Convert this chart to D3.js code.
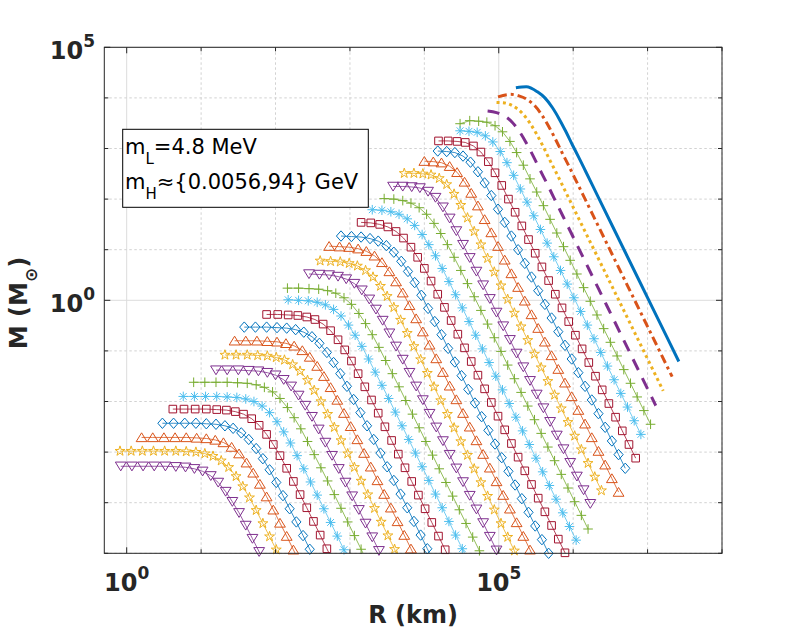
<!DOCTYPE html>
<html><head><meta charset="utf-8">
<script src="https://cdn.jsdelivr.net/npm/d3@7"></script>
<style>body{margin:0;background:#fff} svg{display:block}</style>
</head><body>
<svg id="chart" width="799" height="631"></svg>
<script>
// Each curve: [log10 R (km), log10 M (Msun)] pairs
const c01=[[5.23,4.20],[5.37,4.22],[5.52,4.12],[5.62,4.00],[5.72,3.81],[5.81,3.59],[5.90,3.34],[5.99,3.07],[6.08,2.81],[6.17,2.54],[6.26,2.27],[6.35,2.00],[6.71,0.92],[7.07,-0.16],[7.42,-1.21]];
const c02=[[4.99,4.02],[5.16,4.07],[5.27,4.04],[5.38,3.97],[5.48,3.85],[5.58,3.66],[5.67,3.44],[5.76,3.19],[5.85,2.92],[5.94,2.66],[6.03,2.39],[6.12,2.12],[6.21,1.85],[6.57,0.77],[6.93,-0.31],[7.33,-1.51]];
const c03=[[4.97,3.91],[5.08,3.90],[5.19,3.84],[5.32,3.69],[5.42,3.50],[5.51,3.28],[5.60,3.03],[5.69,2.76],[5.78,2.50],[5.87,2.23],[5.96,1.96],[6.05,1.69],[6.41,0.61],[6.77,-0.47],[7.21,-1.79]];
const c04=[[4.85,3.74],[4.97,3.71],[5.08,3.64],[5.18,3.52],[5.28,3.33],[5.37,3.11],[5.46,2.86],[5.55,2.59],[5.64,2.33],[5.73,2.06],[5.82,1.79],[5.91,1.52],[6.27,0.44],[6.63,-0.64],[7.11,-2.08]];
const c05=[[4.48,3.49],[4.61,3.55],[4.73,3.54],[4.84,3.52],[4.95,3.45],[5.05,3.33],[5.15,3.14],[5.24,2.92],[5.33,2.67],[5.42,2.40],[5.51,2.14],[5.60,1.87],[5.69,1.60],[5.78,1.33],[5.87,1.06],[5.96,0.79],[6.05,0.52],[6.14,0.25],[6.23,-0.02],[6.32,-0.29],[6.41,-0.56],[6.50,-0.83],[6.59,-1.10],[6.68,-1.37],[6.77,-1.64],[6.86,-1.91],[6.95,-2.18],[7.04,-2.45]];
const c06=[[4.48,3.35],[4.60,3.34],[4.71,3.32],[4.82,3.25],[4.92,3.13],[5.02,2.94],[5.11,2.72],[5.20,2.47],[5.29,2.20],[5.38,1.94],[5.47,1.67],[5.56,1.40],[5.65,1.13],[5.74,0.86],[5.83,0.59],[5.92,0.32],[6.01,0.05],[6.10,-0.22],[6.19,-0.49],[6.28,-0.76],[6.37,-1.03],[6.46,-1.30],[6.55,-1.57],[6.64,-1.84],[6.73,-2.11],[6.82,-2.38],[6.91,-2.65]];
const c07=[[4.19,3.15],[4.32,3.15],[4.44,3.14],[4.55,3.12],[4.66,3.05],[4.76,2.93],[4.86,2.74],[4.95,2.52],[5.04,2.27],[5.13,2.00],[5.22,1.74],[5.31,1.47],[5.40,1.20],[5.49,0.93],[5.58,0.66],[5.67,0.39],[5.76,0.12],[5.85,-0.15],[5.94,-0.42],[6.03,-0.69],[6.12,-0.96],[6.21,-1.23],[6.30,-1.50],[6.39,-1.77],[6.48,-2.04],[6.57,-2.31],[6.66,-2.58],[6.75,-2.85],[6.84,-3.12]];
const c08=[[4.18,2.95],[4.30,2.94],[4.41,2.92],[4.52,2.85],[4.62,2.73],[4.72,2.54],[4.81,2.32],[4.90,2.07],[4.99,1.80],[5.08,1.54],[5.17,1.27],[5.26,1.00],[5.35,0.73],[5.44,0.46],[5.53,0.19],[5.62,-0.08],[5.71,-0.35],[5.80,-0.62],[5.89,-0.89],[5.98,-1.16],[6.07,-1.43],[6.16,-1.70],[6.25,-1.97],[6.34,-2.24],[6.43,-2.51],[6.52,-2.78],[6.61,-3.05],[6.70,-3.32]];
const c09=[[4.00,2.75],[4.12,2.74],[4.23,2.72],[4.34,2.65],[4.44,2.53],[4.54,2.34],[4.63,2.12],[4.72,1.87],[4.81,1.60],[4.90,1.34],[4.99,1.07],[5.08,0.80],[5.17,0.53],[5.26,0.26],[5.35,-0.01],[5.44,-0.28],[5.53,-0.55],[5.62,-0.82],[5.71,-1.09],[5.80,-1.36],[5.89,-1.63],[5.98,-1.90],[6.07,-2.17],[6.16,-2.44],[6.25,-2.71],[6.34,-2.98],[6.43,-3.25],[6.52,-3.52],[6.61,-3.79]];
const c10=[[3.73,2.51],[3.86,2.51],[3.98,2.50],[4.09,2.48],[4.20,2.41],[4.30,2.29],[4.40,2.10],[4.49,1.88],[4.58,1.63],[4.67,1.36],[4.76,1.10],[4.85,0.83],[4.94,0.56],[5.03,0.29],[5.12,0.02],[5.21,-0.25],[5.30,-0.52],[5.39,-0.79],[5.48,-1.06],[5.57,-1.33],[5.66,-1.60],[5.75,-1.87],[5.84,-2.14],[5.93,-2.41],[6.02,-2.68],[6.11,-2.95],[6.20,-3.22],[6.29,-3.49],[6.38,-3.76]];
const c11=[[3.58,2.25],[3.71,2.25],[3.83,2.24],[3.94,2.22],[4.05,2.15],[4.15,2.03],[4.25,1.84],[4.34,1.62],[4.43,1.37],[4.52,1.10],[4.61,0.84],[4.70,0.57],[4.79,0.30],[4.88,0.03],[4.97,-0.24],[5.06,-0.51],[5.15,-0.78],[5.24,-1.05],[5.33,-1.32],[5.42,-1.59],[5.51,-1.86],[5.60,-2.13],[5.69,-2.40],[5.78,-2.67],[5.87,-2.94],[5.96,-3.21],[6.05,-3.48],[6.14,-3.75],[6.23,-4.02]];
const c12=[[3.46,2.01],[3.59,2.00],[3.71,1.97],[3.82,1.92],[3.93,1.83],[4.03,1.70],[4.13,1.52],[4.22,1.32],[4.31,1.10],[4.40,0.85],[4.49,0.59],[4.58,0.33],[4.67,0.07],[4.76,-0.20],[4.85,-0.47],[4.94,-0.74],[5.03,-1.01],[5.12,-1.28],[5.21,-1.55],[5.30,-1.82],[5.39,-2.09],[5.48,-2.36],[5.57,-2.63],[5.66,-2.90],[5.75,-3.17],[5.84,-3.44],[5.93,-3.71],[6.02,-3.98],[6.11,-4.25],[6.20,-4.52]];
const c13=[[3.30,1.79],[3.43,1.78],[3.55,1.75],[3.66,1.70],[3.77,1.61],[3.87,1.48],[3.97,1.30],[4.06,1.10],[4.15,0.88],[4.24,0.63],[4.33,0.37],[4.42,0.11],[4.51,-0.15],[4.60,-0.42],[4.69,-0.69],[4.78,-0.96],[4.87,-1.23],[4.96,-1.50],[5.05,-1.77],[5.14,-2.04],[5.23,-2.31],[5.32,-2.58],[5.41,-2.85],[5.50,-3.12],[5.59,-3.39],[5.68,-3.66],[5.77,-3.93],[5.86,-4.20],[5.95,-4.47],[6.04,-4.74]];
const c14=[[3.15,1.54],[3.28,1.53],[3.40,1.50],[3.51,1.45],[3.62,1.36],[3.72,1.23],[3.82,1.05],[3.91,0.85],[4.00,0.63],[4.09,0.38],[4.18,0.12],[4.27,-0.14],[4.36,-0.40],[4.45,-0.67],[4.54,-0.94],[4.63,-1.21],[4.72,-1.48],[4.81,-1.75],[4.90,-2.02],[4.99,-2.29],[5.08,-2.56],[5.17,-2.83],[5.26,-3.10],[5.35,-3.37],[5.44,-3.64],[5.53,-3.91],[5.62,-4.18],[5.71,-4.45],[5.80,-4.72],[5.89,-4.99],[5.98,-5.26]];
const c15=[[2.88,1.27],[3.02,1.26],[3.15,1.25],[3.27,1.22],[3.38,1.17],[3.49,1.08],[3.59,0.95],[3.69,0.77],[3.78,0.57],[3.87,0.35],[3.96,0.10],[4.05,-0.16],[4.14,-0.42],[4.23,-0.68],[4.32,-0.95],[4.41,-1.22],[4.50,-1.49],[4.59,-1.76],[4.68,-2.03],[4.77,-2.30],[4.86,-2.57],[4.95,-2.84],[5.04,-3.11],[5.13,-3.38],[5.22,-3.65],[5.31,-3.92],[5.40,-4.19],[5.49,-4.46],[5.58,-4.73],[5.67,-5.00],[5.76,-5.27]];
const c16=[[2.72,1.07],[2.86,1.06],[2.99,1.05],[3.11,1.02],[3.22,0.97],[3.33,0.88],[3.43,0.75],[3.53,0.57],[3.62,0.37],[3.71,0.15],[3.80,-0.10],[3.89,-0.36],[3.98,-0.62],[4.07,-0.88],[4.16,-1.15],[4.25,-1.42],[4.34,-1.69],[4.43,-1.96],[4.52,-2.23],[4.61,-2.50],[4.70,-2.77],[4.79,-3.04],[4.88,-3.31],[4.97,-3.58],[5.06,-3.85],[5.15,-4.12],[5.24,-4.39],[5.33,-4.66],[5.42,-4.93],[5.51,-5.20]];
const c17=[[2.60,0.78],[2.74,0.77],[2.87,0.76],[2.99,0.73],[3.10,0.68],[3.21,0.59],[3.31,0.46],[3.41,0.28],[3.50,0.08],[3.59,-0.14],[3.68,-0.39],[3.77,-0.65],[3.86,-0.91],[3.95,-1.17],[4.04,-1.44],[4.13,-1.71],[4.22,-1.98],[4.31,-2.25],[4.40,-2.52],[4.49,-2.79],[4.58,-3.06],[4.67,-3.33],[4.76,-3.60],[4.85,-3.87],[4.94,-4.14],[5.03,-4.41],[5.12,-4.68],[5.21,-4.95],[5.30,-5.22]];
const c18=[[2.45,0.52],[2.59,0.51],[2.72,0.50],[2.84,0.47],[2.95,0.42],[3.06,0.33],[3.16,0.20],[3.26,0.02],[3.35,-0.18],[3.44,-0.40],[3.53,-0.65],[3.62,-0.91],[3.71,-1.17],[3.80,-1.43],[3.89,-1.70],[3.98,-1.97],[4.07,-2.24],[4.16,-2.51],[4.25,-2.78],[4.34,-3.05],[4.43,-3.32],[4.52,-3.59],[4.61,-3.86],[4.70,-4.13],[4.79,-4.40],[4.88,-4.67],[4.97,-4.94],[5.06,-5.21]];
const c19=[[2.16,0.24],[2.31,0.24],[2.45,0.23],[2.58,0.22],[2.70,0.19],[2.81,0.14],[2.92,0.05],[3.02,-0.08],[3.12,-0.26],[3.21,-0.46],[3.30,-0.68],[3.39,-0.93],[3.48,-1.19],[3.57,-1.45],[3.66,-1.71],[3.75,-1.98],[3.84,-2.25],[3.93,-2.52],[4.02,-2.79],[4.11,-3.06],[4.20,-3.33],[4.29,-3.60],[4.38,-3.87],[4.47,-4.14],[4.56,-4.41],[4.65,-4.68],[4.74,-4.95],[4.83,-5.22]];
const c20=[[2.17,0.01],[2.31,0.00],[2.44,-0.01],[2.56,-0.04],[2.67,-0.09],[2.78,-0.18],[2.88,-0.31],[2.98,-0.49],[3.07,-0.69],[3.16,-0.91],[3.25,-1.16],[3.34,-1.42],[3.43,-1.68],[3.52,-1.94],[3.61,-2.21],[3.70,-2.48],[3.79,-2.75],[3.88,-3.02],[3.97,-3.29],[4.06,-3.56],[4.15,-3.83],[4.24,-4.10],[4.33,-4.37],[4.42,-4.64],[4.51,-4.91],[4.60,-5.18]];
const c21=[[1.88,-0.28],[2.03,-0.28],[2.17,-0.29],[2.30,-0.30],[2.42,-0.33],[2.53,-0.38],[2.64,-0.47],[2.74,-0.60],[2.84,-0.78],[2.93,-0.98],[3.02,-1.20],[3.11,-1.45],[3.20,-1.71],[3.29,-1.97],[3.38,-2.23],[3.47,-2.50],[3.56,-2.77],[3.65,-3.04],[3.74,-3.31],[3.83,-3.58],[3.92,-3.85],[4.01,-4.12],[4.10,-4.39],[4.19,-4.66],[4.28,-4.93],[4.37,-5.20]];
const c22=[[1.58,-0.53],[1.73,-0.53],[1.88,-0.53],[2.02,-0.54],[2.15,-0.55],[2.27,-0.58],[2.38,-0.63],[2.49,-0.72],[2.59,-0.85],[2.69,-1.03],[2.78,-1.23],[2.87,-1.45],[2.96,-1.70],[3.05,-1.96],[3.14,-2.22],[3.23,-2.48],[3.32,-2.75],[3.41,-3.02],[3.50,-3.29],[3.59,-3.56],[3.68,-3.83],[3.77,-4.10],[3.86,-4.37],[3.95,-4.64],[4.04,-4.91],[4.13,-5.18]];
const c23=[[1.45,-0.80],[1.60,-0.80],[1.75,-0.80],[1.89,-0.81],[2.02,-0.82],[2.14,-0.85],[2.25,-0.90],[2.36,-0.99],[2.46,-1.12],[2.56,-1.30],[2.65,-1.50],[2.74,-1.72],[2.83,-1.97],[2.92,-2.23],[3.01,-2.49],[3.10,-2.75],[3.19,-3.02],[3.28,-3.29],[3.37,-3.56],[3.46,-3.83],[3.55,-4.10],[3.64,-4.37],[3.73,-4.64],[3.82,-4.91],[3.91,-5.18]];
const c24=[[1.32,-1.08],[1.47,-1.08],[1.62,-1.08],[1.76,-1.09],[1.89,-1.10],[2.01,-1.13],[2.12,-1.18],[2.23,-1.27],[2.33,-1.40],[2.43,-1.58],[2.52,-1.78],[2.61,-2.00],[2.70,-2.25],[2.79,-2.51],[2.88,-2.77],[2.97,-3.03],[3.06,-3.30],[3.15,-3.57],[3.24,-3.84],[3.33,-4.11],[3.42,-4.38],[3.51,-4.65],[3.60,-4.92],[3.69,-5.19]];
const c25=[[1.20,-1.38],[1.35,-1.38],[1.50,-1.38],[1.64,-1.39],[1.77,-1.40],[1.89,-1.43],[2.00,-1.48],[2.11,-1.57],[2.21,-1.70],[2.31,-1.88],[2.40,-2.08],[2.49,-2.30],[2.58,-2.55],[2.67,-2.81],[2.76,-3.07],[2.85,-3.33],[2.94,-3.60],[3.03,-3.87],[3.12,-4.14],[3.21,-4.41],[3.30,-4.68],[3.39,-4.95],[3.48,-5.22]];
const c26=[[0.90,-1.62],[1.05,-1.62],[1.20,-1.62],[1.35,-1.62],[1.49,-1.63],[1.62,-1.64],[1.74,-1.67],[1.85,-1.72],[1.96,-1.81],[2.06,-1.94],[2.16,-2.12],[2.25,-2.32],[2.34,-2.54],[2.43,-2.79],[2.52,-3.05],[2.61,-3.31],[2.70,-3.57],[2.79,-3.84],[2.88,-4.11],[2.97,-4.38],[3.06,-4.65],[3.15,-4.92],[3.24,-5.19]];
const c27=[[0.76,-1.90],[0.91,-1.90],[1.06,-1.90],[1.21,-1.90],[1.35,-1.91],[1.48,-1.92],[1.60,-1.95],[1.71,-2.00],[1.82,-2.09],[1.92,-2.22],[2.02,-2.40],[2.11,-2.60],[2.20,-2.82],[2.29,-3.07],[2.38,-3.33],[2.47,-3.59],[2.56,-3.85],[2.65,-4.12],[2.74,-4.39],[2.83,-4.66],[2.92,-4.93],[3.01,-5.20]];
const c28=[[0.62,-2.15],[0.77,-2.15],[0.92,-2.15],[1.07,-2.15],[1.21,-2.16],[1.34,-2.17],[1.46,-2.20],[1.57,-2.25],[1.68,-2.34],[1.78,-2.47],[1.88,-2.65],[1.97,-2.85],[2.06,-3.07],[2.15,-3.32],[2.24,-3.58],[2.33,-3.84],[2.42,-4.10],[2.51,-4.37],[2.60,-4.64],[2.69,-4.91],[2.78,-5.18]];
const c29=[[0.48,-2.43],[0.63,-2.43],[0.78,-2.43],[0.93,-2.43],[1.07,-2.44],[1.20,-2.45],[1.32,-2.48],[1.43,-2.53],[1.54,-2.62],[1.64,-2.75],[1.74,-2.93],[1.83,-3.13],[1.92,-3.35],[2.01,-3.60],[2.10,-3.86],[2.19,-4.12],[2.28,-4.38],[2.37,-4.65],[2.46,-4.92],[2.55,-5.19]];
const c30=[[0.20,-2.71],[0.35,-2.71],[0.50,-2.71],[0.65,-2.71],[0.80,-2.71],[0.94,-2.72],[1.07,-2.73],[1.19,-2.76],[1.30,-2.81],[1.41,-2.90],[1.51,-3.03],[1.61,-3.21],[1.70,-3.41],[1.79,-3.63],[1.88,-3.88],[1.97,-4.14],[2.06,-4.40],[2.15,-4.66],[2.24,-4.93],[2.33,-5.20]];
const c31=[[-0.09,-2.98],[0.06,-2.98],[0.21,-2.98],[0.36,-2.98],[0.51,-2.98],[0.66,-2.98],[0.80,-2.99],[0.93,-3.00],[1.05,-3.03],[1.16,-3.08],[1.27,-3.17],[1.37,-3.30],[1.47,-3.48],[1.56,-3.68],[1.65,-3.90],[1.74,-4.15],[1.83,-4.41],[1.92,-4.67],[2.01,-4.93],[2.10,-5.20]];
const c32=[[-0.08,-3.28],[0.07,-3.28],[0.22,-3.28],[0.37,-3.28],[0.52,-3.28],[0.66,-3.29],[0.79,-3.30],[0.91,-3.33],[1.02,-3.38],[1.13,-3.47],[1.23,-3.60],[1.33,-3.78],[1.42,-3.98],[1.51,-4.20],[1.60,-4.45],[1.69,-4.71],[1.78,-4.97],[1.87,-5.23]];

const curves=[c01,c02,c03,c04,c05,c06,c07,c08,c09,c10,c11,c12,c13,c14,c15,c16,c17,c18,c19,c20,c21,c22,c23,c24,c25,c26,c27,c28,c29,c30,c31,c32];

// axes
const xDomain=[0.5,1e8];
const yDomain=[1e-5,1e5];
const xDecades=[1,10,100,1e3,1e4,1e5,1e6,1e7,1e8];
const yDecades=[1e-5,1e-4,1e-3,1e-2,0.1,1,10,100,1e3,1e4,1e5];
const xMajor=[1,1e5];
const yMajor=[1,1e5];
const xTickExp=['0','5'];
const yTickExp=['0','5'];
const boxLine1=['m','L','=4.8 MeV'];
const boxLine2=['m','H','\u2248{0.0056,94} GeV'];
const xLabel='R (km)';

// styles
const colors=['#0072BD','#D95319','#EDB120','#7E2F8E','#77AC30','#4DBEEE','#A2142F'];
const lineDash=[null,'9,4,3,4','3,3.4','12,9'];
const markerCycle=['+','*','s','d','^','p','v'];

const W=799,H=631;
const L=104.3,R=722,T=47.3,B=553.3;
const FONT='DejaVu Sans';
const AX='#262626';

const svg=d3.select('#chart');
svg.append('rect').attr('width',W).attr('height',H).attr('fill','#fff');
const x=d3.scaleLog().domain(xDomain).range([L,R]);
const y=d3.scaleLog().domain(yDomain).range([B,T]);

svg.append('defs').append('clipPath').attr('id','clip')
  .append('rect').attr('x',L).attr('y',T).attr('width',R-L).attr('height',B-T);

// grid
const grid=svg.append('g');
xDecades.forEach(v=>{
  const major=xMajor.includes(v);
  grid.append('line').attr('x1',x(v)).attr('x2',x(v)).attr('y1',T).attr('y2',B)
    .attr('stroke',major?'#dcdcdc':'#d2d2d2').attr('stroke-width',1)
    .attr('stroke-dasharray',major?null:'2.5,2.5');
});
yDecades.forEach(v=>{
  const major=yMajor.includes(v);
  grid.append('line').attr('y1',y(v)).attr('y2',y(v)).attr('x1',L).attr('x2',R)
    .attr('stroke',major?'#dcdcdc':'#d2d2d2').attr('stroke-width',1)
    .attr('stroke-dasharray',major?null:'2.5,2.5');
});

function pentagram(r){
  const pts=[];const ri=r*0.382;
  for(let k=0;k<10;k++){const a=-Math.PI/2+k*Math.PI/5;const rr=k%2?ri:r;pts.push([rr*Math.cos(a),rr*Math.sin(a)]);}
  return 'M'+pts.map(p=>p[0].toFixed(2)+','+p[1].toFixed(2)).join('L')+'Z';
}
const markerPaths={
  '+':'M-4.8,0H4.8M0,-4.8V4.8',
  '*':'M-4.8,0H4.8M0,-4.8V4.8M-3.4,-3.4L3.4,3.4M-3.4,3.4L3.4,-3.4',
  's':'M-3.8,-3.8H3.8V3.8H-3.8Z',
  'd':'M0,-5.2L4.6,0L0,5.2L-4.6,0Z',
  '^':'M0,-4.6L5.4,4.2L-5.4,4.2Z',
  'v':'M0,4.6L5.4,-4.2L-5.4,-4.2Z',
  'p':pentagram(5.2)
};

const plot=svg.append('g').attr('clip-path','url(#clip)');
const markG=svg.append('g');
curves.forEach((c,i)=>{
  const pts=c.map(d=>({R:Math.pow(10,d[0]),M:Math.pow(10,d[1])}));
  const col=colors[i%7];
  if(i<4){
    const ln=d3.line().x(d=>x(d.R)).y(d=>y(d.M)).curve(d3.curveMonotoneX);
    plot.append('path').attr('d',ln(pts)).attr('fill','none').attr('stroke',col)
      .attr('stroke-width',3).attr('stroke-dasharray',lineDash[i]);
  } else {
    const ln=d3.line().x(d=>x(d.R)).y(d=>y(d.M));
    plot.append('path').attr('d',ln(pts)).attr('fill','none').attr('stroke',col)
      .attr('stroke-width',0.8);
    const mk=markerCycle[(i-4)%7];
    markG.selectAll(null).data(pts.filter(d=>d.M>=yDomain[0]*0.999&&d.R>=xDomain[0]))
      .enter().append('path')
      .attr('transform',d=>`translate(${x(d.R)},${y(d.M)})`)
      .attr('d',markerPaths[mk]).attr('fill','none').attr('stroke',col).attr('stroke-width',1);
  }
});

// box + ticks
const ax=svg.append('g').attr('stroke',AX).attr('stroke-width',1);
xDecades.forEach(v=>{
  const len=xMajor.includes(v)?6:4;
  ax.append('line').attr('x1',x(v)).attr('x2',x(v)).attr('y1',B).attr('y2',B-len);
  ax.append('line').attr('x1',x(v)).attr('x2',x(v)).attr('y1',T).attr('y2',T+len);
});
yDecades.forEach(v=>{
  const len=yMajor.includes(v)?6:4;
  ax.append('line').attr('y1',y(v)).attr('y2',y(v)).attr('x1',L).attr('x2',L+len);
  ax.append('line').attr('y1',y(v)).attr('y2',y(v)).attr('x1',R).attr('x2',R-len);
});
ax.append('rect').attr('x',L).attr('y',T).attr('width',R-L).attr('height',B-T).attr('fill','none');

// tick labels
xMajor.forEach((v,k)=>{
  const t=svg.append('text').attr('x',x(v)).attr('y',591).attr('text-anchor','middle')
    .attr('font-family',FONT).attr('font-weight','bold').attr('font-size',24).attr('fill',AX);
  t.append('tspan').text('10');
  t.append('tspan').attr('dy',-12).attr('font-size',17).text(xTickExp[k]);
});
yMajor.forEach((v,k)=>{
  const t=svg.append('text').attr('x',95).attr('y',y(v)+11.5).attr('text-anchor','end')
    .attr('font-family',FONT).attr('font-weight','bold').attr('font-size',24).attr('fill',AX);
  t.append('tspan').text('10');
  t.append('tspan').attr('dy',-12).attr('font-size',17).text(yTickExp[k]);
});

// axis labels
svg.append('text').attr('x',(L+R)/2).attr('y',623).attr('text-anchor','middle')
  .attr('font-family',FONT).attr('font-weight','bold').attr('font-size',24).attr('fill',AX).text(xLabel);
const yl=svg.append('text').attr('transform','translate(27,303) rotate(-90)').attr('text-anchor','middle')
  .attr('font-family',FONT).attr('font-weight','bold').attr('font-size',24).attr('fill',AX);
yl.append('tspan').text('M (M');
yl.append('tspan').attr('dy',10).attr('font-size',17).text('\u2299');
yl.append('tspan').attr('dy',-10).text(')');

// annotation box
svg.append('rect').attr('x',122.7).attr('y',129.3).attr('width',245.6).attr('height',78)
  .attr('fill','#fff').attr('stroke','#000').attr('stroke-width',1);
[[boxLine1,154],[boxLine2,189]].forEach(([parts,by])=>{
  const t=svg.append('text').attr('x',125).attr('y',by).attr('font-family',FONT).attr('font-size',21).attr('fill','#000');
  t.append('tspan').text(parts[0]);
  t.append('tspan').attr('dy',10).attr('font-size',15).text(parts[1]);
  t.append('tspan').attr('dy',-10).text(parts[2]);
});
</script>
</body></html>
